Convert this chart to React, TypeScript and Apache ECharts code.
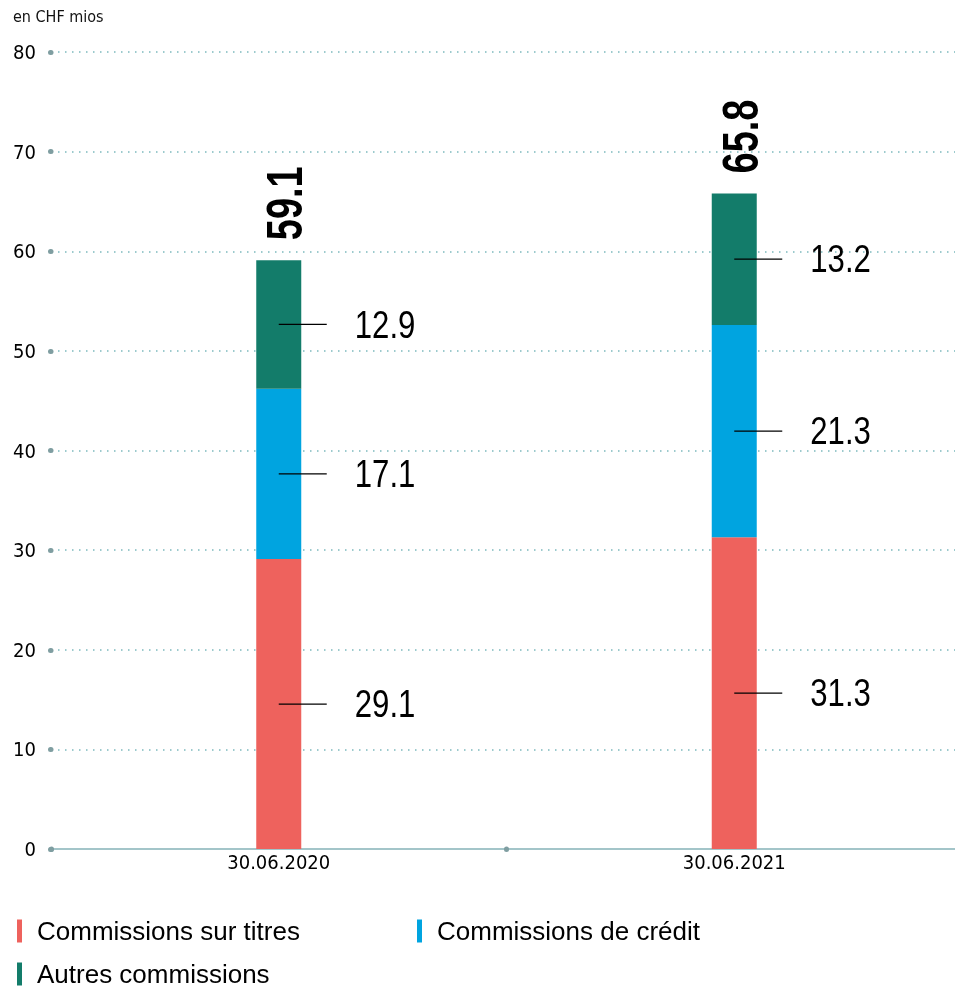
import React, { useEffect, useRef } from 'react';
import * as echarts from 'echarts';

const categories = ['30.06.2020', '30.06.2021'];
const seriesNames = ['Commissions sur titres', 'Commissions de crédit', 'Autres commissions'];
const titres = [29.1, 31.3];
const credit = [17.1, 21.3];
const autres = [12.9, 13.2];
const totals = [59.1, 65.8];
const unitLabel = 'en CHF mios';
const yMin = 0;
const yMax = 80;
const yInterval = 10;

const colors = ['#EE625D', '#00A4E0', '#137C6A'];
const COND = '"DejaVu Sans Condensed", "Liberation Sans", sans-serif';
const ARIAL = '"Liberation Sans", Arial, sans-serif';

export default function App() {
  const ref = useRef<HTMLDivElement>(null);
  useEffect(() => {
    if (!ref.current) return;
    const chart = echarts.init(ref.current, undefined, { renderer: 'svg' });
    const segs = [titres, credit, autres];
    const segData: number[][] = [];
    categories.forEach((_, i) => {
      let base = 0;
      segs.forEach((s) => {
        segData.push([i, base, s[i]]);
        base += s[i];
      });
    });
    const totalData = categories.map((_, i) => [i, totals[i]]);

    const legendCommon = {
      icon: 'rect',
      itemWidth: 5,
      itemHeight: 23,
      padding: 0,
      selectedMode: false,
      textStyle: { fontSize: 26, lineHeight: 26, fontFamily: ARIAL, color: '#000', padding: [0, 0, 0, 10] },
    };

    chart.setOption({
      animation: false,
      title: {
        text: unitLabel,
        left: 13,
        top: 8,
        padding: 0,
        textStyle: { fontSize: 16, fontWeight: 'normal', fontFamily: COND, color: '#111' },
      },
      legend: [
        { ...legendCommon, data: [seriesNames[0]], left: 17, top: 918 },
        { ...legendCommon, data: [seriesNames[1]], left: 417, top: 918 },
        { ...legendCommon, data: [seriesNames[2]], left: 17, top: 961 },
      ],
      grid: { left: 51, right: 0, top: 52, bottom: 141 },
      xAxis: {
        type: 'category',
        data: categories,
        axisLine: { show: true, lineStyle: { color: '#a3c5c9', width: 2 } },
        axisTick: {
          show: true,
          alignWithLabel: false,
          length: 0.5,
          lineStyle: { color: '#7f9ea1', width: 5, cap: 'round' },
        },
        axisLabel: { fontSize: 20, fontFamily: COND, color: '#000', margin: 3, interval: 0 },
      },
      yAxis: {
        type: 'value',
        min: yMin,
        max: yMax,
        interval: yInterval,
        axisLine: { show: false },
        axisTick: {
          show: true,
          length: 0.5,
          lineStyle: { color: '#7f9ea1', width: 5, cap: 'round' },
        },
        splitLine: { show: true, lineStyle: { color: '#9ccacd', width: 2, type: [1.5, 5.5] } },
        axisLabel: { fontSize: 20, fontFamily: COND, color: '#000', margin: 15 },
      },
      series: [
        ...seriesNames.map((name, k) => ({
          name,
          type: 'bar',
          stack: 'total',
          barWidth: 45,
          itemStyle: { color: colors[k] },
          data: segs[k],
        })),
        {
          type: 'custom',
          name: 'segLabels',
          z: 10,
          data: segData,
          renderItem: (params: any, api: any) => {
            const cat = api.value(0);
            const base = api.value(1);
            const v = api.value(2);
            const p = api.coord([cat, base + v / 2]);
            return {
              type: 'group',
              children: [
                {
                  type: 'line',
                  shape: { x1: p[0], y1: p[1], x2: p[0] + 48, y2: p[1] },
                  style: { stroke: '#000', lineWidth: 1.2 },
                },
                {
                  type: 'text',
                  x: p[0] + 76,
                  y: p[1],
                  scaleX: 0.82,
                  style: {
                    text: v.toFixed(1),
                    fontSize: 38,
                    fontFamily: ARIAL,
                    fill: '#000',
                    align: 'left',
                    verticalAlign: 'middle',
                  },
                },
              ],
            };
          },
        },
        {
          type: 'custom',
          name: 'totals',
          z: 10,
          data: totalData,
          renderItem: (params: any, api: any) => {
            const cat = api.value(0);
            const t = api.value(1);
            const p = api.coord([cat, t]);
            return {
              type: 'text',
              x: p[0] + 6,
              y: p[1] - 20,
              rotation: Math.PI / 2,
              scaleX: 0.76,
              style: {
                text: t.toFixed(1),
                fontSize: 50,
                fontWeight: 'bold',
                fontFamily: ARIAL,
                fill: '#000',
                align: 'left',
                verticalAlign: 'middle',
              },
            };
          },
        },
      ],
    });
    return () => chart.dispose();
  }, []);
  return (
    <div
      ref={ref}
      style={{ position: 'fixed', left: 0, top: 0, width: 962, height: 990 }}
    />
  );
}
